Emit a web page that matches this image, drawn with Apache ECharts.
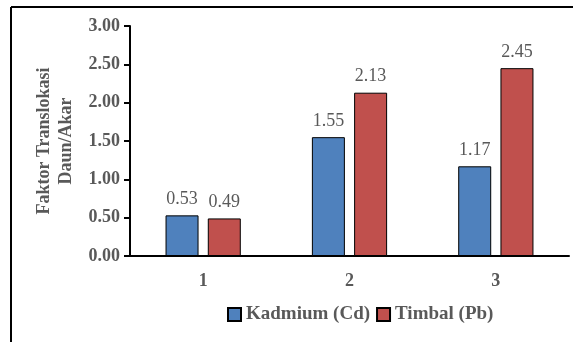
<!DOCTYPE html>
<html>
<head>
<meta charset="utf-8">
<script src="https://cdn.jsdelivr.net/npm/echarts@6/dist/echarts.min.js"></script>
<style>
  html, body { margin: 0; padding: 0; background: #fff; }
  #chart { width: 573px; height: 342px; }
</style>
</head>
<body>
<div id="chart"></div>
<script>
// Translocation factor (leaf/root) per sample
const categories = ['1', '2', '3'];
const cadmium = [0.53, 1.55, 1.17];
const lead = [0.49, 2.13, 2.45];
const yTicks = { min: 0, max: 3, interval: 0.5 };

const serif = '"Liberation Serif", "Times New Roman", serif';
const textGray = '#595959';

const chart = echarts.init(document.getElementById('chart'));

const barLabel = {
  show: true,
  position: 'top',
  distance: 7,
  fontFamily: serif,
  fontSize: 18,
  color: textGray,
  formatter: p => p.value.toFixed(2)
};

chart.setOption({
  animation: false,
  backgroundColor: '#fff',
  graphic: [
    { type: 'line', shape: { x1: 11, y1: 7, x2: 573, y2: 7 }, style: { stroke: '#000', lineWidth: 2 } },
    { type: 'line', shape: { x1: 11, y1: 7, x2: 11, y2: 342 }, style: { stroke: '#000', lineWidth: 2 } }
  ],
  grid: { left: 130, right: 4, top: 26, bottom: 86 },
  legend: {
    data: ['Kadmium (Cd)', 'Timbal (Pb)'],
    left: 222,
    top: 300,
    itemWidth: 13,
    itemHeight: 13,
    itemGap: 6,
    icon: 'rect',
    textStyle: { fontFamily: serif, fontSize: 19, fontWeight: 'bold', color: textGray }
  },
  xAxis: {
    type: 'category',
    data: categories,
    axisLine: { lineStyle: { color: '#000', width: 2 } },
    axisTick: { show: false },
    axisLabel: { fontFamily: serif, fontSize: 18, fontWeight: 'bold', color: textGray, margin: 16 }
  },
  yAxis: {
    type: 'value',
    min: yTicks.min,
    max: yTicks.max,
    interval: yTicks.interval,
    name: 'Faktor Translokasi\nDaun/Akar',
    nameLocation: 'middle',
    nameGap: 52,
    nameTextStyle: { fontFamily: serif, fontSize: 18, fontWeight: 'bold', color: textGray, lineHeight: 22 },
    axisLine: { show: true, lineStyle: { color: '#000', width: 2 } },
    axisTick: { show: true, length: 6, lineStyle: { color: '#000', width: 2 } },
    splitLine: { show: false },
    axisLabel: {
      fontFamily: serif, fontSize: 18, fontWeight: 'bold', color: textGray, margin: 10,
      formatter: v => v.toFixed(2)
    }
  },
  series: [
    {
      name: 'Kadmium (Cd)',
      type: 'bar',
      data: cadmium,
      barWidth: 33,
      barGap: '28%',
      itemStyle: { color: '#4F81BD', borderColor: '#000', borderWidth: 1 },
      label: barLabel
    },
    {
      name: 'Timbal (Pb)',
      type: 'bar',
      data: lead,
      barWidth: 33,
      itemStyle: { color: '#C0504D', borderColor: '#000', borderWidth: 1 },
      label: barLabel
    }
  ]
});
</script>
</body>
</html>
